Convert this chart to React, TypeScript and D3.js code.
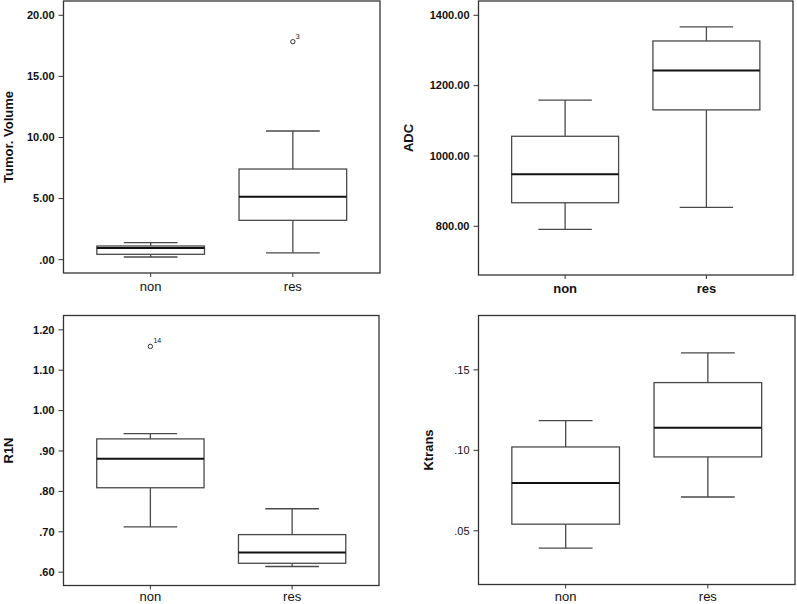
import React from "react";
import * as d3 from "d3";

// ---- data ----
const categories = ["non", "res"];

// five-number summaries: [min, q1, median, q3, max]
const tumorVolumeStats = [
  [0.22, 0.44, 0.96, 1.12, 1.39],
  [0.55, 3.22, 5.16, 7.42, 10.53],
];
const tumorVolumeOutliers = [{ cat: "res", value: 17.84, label: "3" }];
const tumorVolumeTicks = [0, 5, 10, 15, 20];
const tumorVolumeTickLabels = [".00", "5.00", "10.00", "15.00", "20.00"];

const adcStats = [
  [791, 867, 948, 1056, 1159],
  [854, 1131, 1243, 1327, 1367],
];
const adcTicks = [800, 1000, 1200, 1400];
const adcTickLabels = ["800.00", "1000.00", "1200.00", "1400.00"];

const r1nStats = [
  [0.712, 0.809, 0.881, 0.93, 0.943],
  [0.614, 0.622, 0.649, 0.693, 0.757],
];
const r1nOutliers = [{ cat: "non", value: 1.159, label: "14" }];
const r1nTicks = [0.6, 0.7, 0.8, 0.9, 1.0, 1.1, 1.2];
const r1nTickLabels = [".60", ".70", ".80", ".90", "1.00", "1.10", "1.20"];

const ktransStats = [
  [0.0392, 0.0541, 0.0797, 0.1021, 0.1185],
  [0.071, 0.0959, 0.1141, 0.1421, 0.1606],
];
const ktransTicks = [0.05, 0.1, 0.15];
const ktransTickLabels = [".05", ".10", ".15"];

const FONT = "'Liberation Sans', Arial, Helvetica, sans-serif";

type Outlier = { cat: string; value: number; label: string };

type PanelProps = {
  frame: [number, number, number, number];
  domain: [number, number];
  stats: number[][];
  outliers?: Outlier[];
  ticks: number[];
  tickLabels: string[];
  title: string;
  titleX: number;
  catOffset: number;
  boldTicks: boolean;
  boldCats: boolean;
};

function Panel({ frame, domain, stats, outliers = [], ticks, tickLabels, title, titleX, catOffset, boldTicks, boldCats }: PanelProps) {
  const [x0, y0, x1, y1] = frame;
  const y = d3.scaleLinear().domain(domain).range([y1, y0]);
  const x = d3.scalePoint<string>().domain(categories).range([x0, x1]).padding(0.613);
  const step = x.step();
  const bw = step * 0.757;
  const cw = bw / 2;
  const boxStroke = "#4a4a4a";
  return (
    <g>
      {/* y ticks */}
      {ticks.map((t, i) => (
        <g key={"t" + i}>
          <line x1={x0 - 5} x2={x0} y1={y(t)} y2={y(t)} stroke="#333" strokeWidth={1} />
          <text
            x={x0 - 9}
            y={y(t)}
            dy="0.35em"
            textAnchor="end"
            fontFamily={FONT}
            fontSize={11}
            fontWeight={boldTicks ? "bold" : "normal"}
            fill="#111"
          >
            {tickLabels[i]}
          </text>
        </g>
      ))}
      {/* x ticks and labels */}
      {categories.map((c) => (
        <g key={"c" + c}>
          <line x1={x(c)} x2={x(c)} y1={y1} y2={y1 + 4} stroke="#333" strokeWidth={1} />
          <text
            x={x(c)}
            y={y1 + catOffset}
            textAnchor="middle"
            fontFamily={FONT}
            fontSize={13}
            fontWeight={boldCats ? "bold" : "normal"}
            fill="#111"
          >
            {c}
          </text>
        </g>
      ))}
      {/* title */}
      <text
        transform={`translate(${titleX},${(y0 + y1) / 2}) rotate(-90)`}
        dy="0.35em"
        textAnchor="middle"
        fontFamily={FONT}
        fontSize={13}
        fontWeight="bold"
        fill="#111"
      >
        {title}
      </text>
      {/* boxes */}
      {categories.map((c, i) => {
        const [mn, q1, md, q3, mx] = stats[i];
        const cx = x(c) as number;
        return (
          <g key={"b" + c}>
            <line x1={cx} x2={cx} y1={y(q3)} y2={y(mx)} stroke={boxStroke} strokeWidth={1.3} />
            <line x1={cx} x2={cx} y1={y(q1)} y2={y(mn)} stroke={boxStroke} strokeWidth={1.3} />
            <line x1={cx - cw / 2} x2={cx + cw / 2} y1={y(mx)} y2={y(mx)} stroke={boxStroke} strokeWidth={1.3} />
            <line x1={cx - cw / 2} x2={cx + cw / 2} y1={y(mn)} y2={y(mn)} stroke={boxStroke} strokeWidth={1.3} />
            <rect
              x={cx - bw / 2}
              y={y(q3)}
              width={bw}
              height={y(q1) - y(q3)}
              fill="white"
              stroke={boxStroke}
              strokeWidth={1.3}
            />
            <line x1={cx - bw / 2} x2={cx + bw / 2} y1={y(md)} y2={y(md)} stroke="#111" strokeWidth={2} />
          </g>
        );
      })}
      {/* outliers */}
      {outliers.map((o, i) => {
        const cx = x(o.cat) as number;
        return (
          <g key={"o" + i}>
            <circle cx={cx} cy={y(o.value)} r={2.2} fill="none" stroke="#333" strokeWidth={1} />
            <text x={cx + 3} y={y(o.value) - 3} fontFamily={FONT} fontSize={7} fill="#111">
              {o.label}
            </text>
          </g>
        );
      })}
      {/* frame */}
      <rect x={x0} y={y0} width={x1 - x0} height={y1 - y0} fill="none" stroke="#333" strokeWidth={1.3} />
    </g>
  );
}

export default function App() {
  return (
    <svg
      width={797}
      height={604}
      style={{ position: "absolute", left: 0, top: 0, background: "white" }}
    >
      <rect x={0} y={0} width={797} height={604} fill="white" />
      <Panel
        frame={[63.5, 1, 380, 273]}
        domain={[-1.09, 21.17]}
        stats={tumorVolumeStats}
        outliers={tumorVolumeOutliers}
        ticks={tumorVolumeTicks}
        tickLabels={tumorVolumeTickLabels}
        title="Tumor. Volume"
        titleX={8}
        catOffset={18}
        boldTicks={true}
        boldCats={false}
      />
      <Panel
        frame={[478.5, 1, 793, 275]}
        domain={[661.5, 1440.7]}
        stats={adcStats}
        ticks={adcTicks}
        tickLabels={adcTickLabels}
        title="ADC"
        titleX={408}
        catOffset={18}
        boldTicks={true}
        boldCats={true}
      />
      <Panel
        frame={[63.5, 315.5, 379, 585.5]}
        domain={[0.567, 1.2355]}
        stats={r1nStats}
        outliers={r1nOutliers}
        ticks={r1nTicks}
        tickLabels={r1nTickLabels}
        title="R1N"
        titleX={8}
        catOffset={15}
        boldTicks={true}
        boldCats={false}
      />
      <Panel
        frame={[478.5, 315.5, 795, 584.5]}
        domain={[0.0166, 0.1838]}
        stats={ktransStats}
        ticks={ktransTicks}
        tickLabels={ktransTickLabels}
        title="Ktrans"
        titleX={428}
        catOffset={16}
        boldTicks={false}
        boldCats={false}
      />
    </svg>
  );
}
